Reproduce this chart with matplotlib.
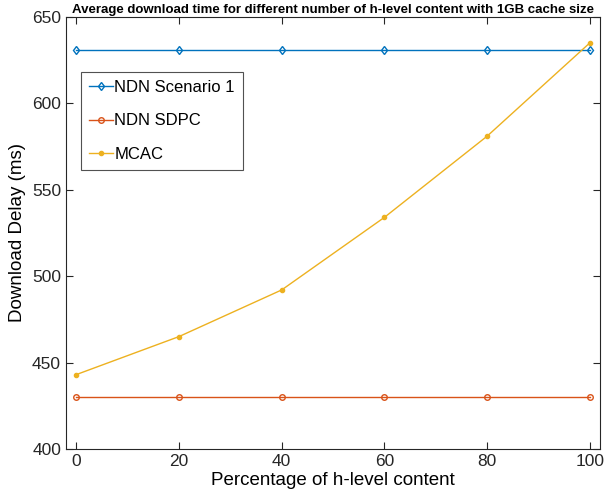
import matplotlib
matplotlib.use('Agg')
import matplotlib.pyplot as plt

# data
percent = [0, 20, 40, 60, 80, 100]
ndn_scenario1 = [631, 631, 631, 631, 631, 631]
ndn_sdpc = [430, 430, 430, 430, 430, 430]
mcac = [443, 465, 492, 534, 581, 635]

plt.rcParams['font.family'] = ['Liberation Sans', 'DejaVu Sans']

fig = plt.figure(figsize=(6.1, 4.95), dpi=100)
ax = fig.add_axes([0.108, 0.093, 0.876, 0.873])

ax.plot(percent, ndn_scenario1, color='#0072BD', marker='d', markersize=4.5,
        markerfacecolor='none', linewidth=1, label='NDN Scenario 1')
ax.plot(percent, ndn_sdpc, color='#D95319', marker='o', markersize=4,
        markerfacecolor='none', linewidth=1, label='NDN SDPC')
ax.plot(percent, mcac, color='#EDB120', marker='.', markersize=6,
        linewidth=1, label='MCAC')

ax.set_xlim(-2, 102)
ax.set_ylim(400, 650)
ax.set_xticks([0, 20, 40, 60, 80, 100])
ax.set_yticks([400, 450, 500, 550, 600, 650])
ax.tick_params(direction='in', top=True, right=True, labelsize=12.5, length=5,
               colors='#262626')
for s in ax.spines.values():
    s.set_color('#262626')
    s.set_linewidth(0.8)

ax.set_xlabel('Percentage of h-level content', fontsize=13.5, labelpad=2)
ax.set_ylabel('Download Delay (ms)', fontsize=13.5)
ax.set_title('Average download time for different number of h-level content with 1GB cache size',
             fontsize=9.5, fontweight='bold', pad=3)

leg = ax.legend(loc='upper left', bbox_to_anchor=(0.028, 0.873), borderaxespad=0,
                fontsize=12, fancybox=False, edgecolor='#262626', handlelength=1.4,
                handletextpad=0.1, labelspacing=1.1, borderpad=0.5)
leg.get_frame().set_linewidth(0.8)

fig.savefig('out.png', dpi=100)
